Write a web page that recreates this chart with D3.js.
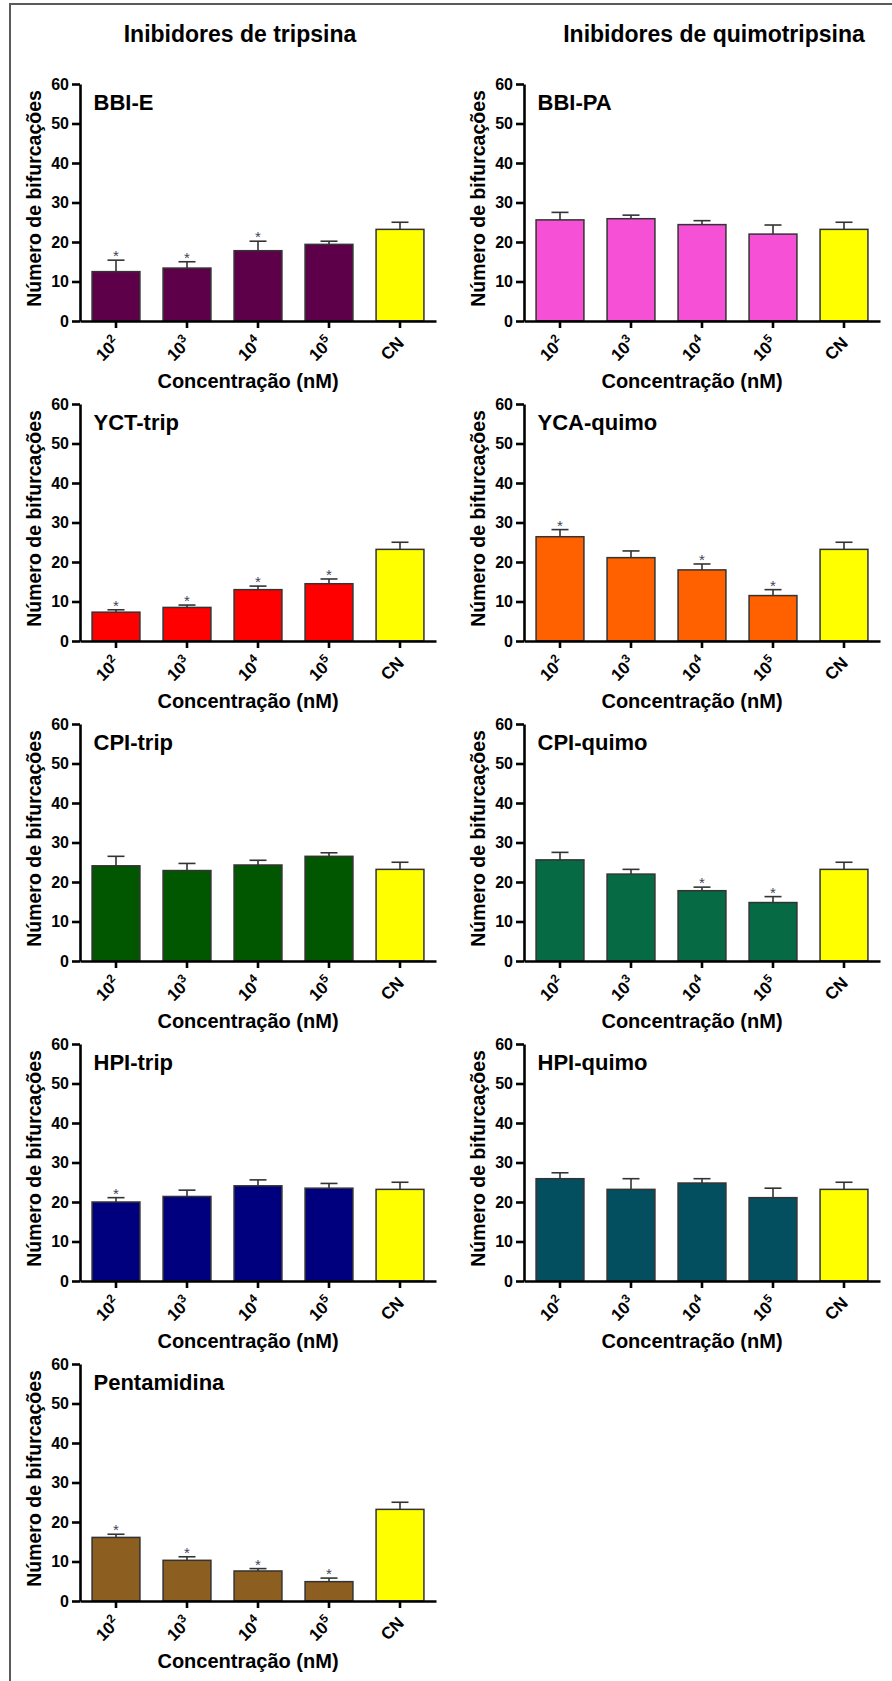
<!DOCTYPE html>
<html>
<head>
<meta charset="utf-8">
<script src="https://cdn.jsdelivr.net/npm/d3@7"></script>
<style>
  body { margin: 0; background: #fff; }
  svg { display: block; }
  text { font-family: "Liberation Sans", Arial, Helvetica, sans-serif; font-weight: bold; fill: #000; }
</style>
</head>
<body>
<svg id="chart" width="892" height="1681"></svg>
<script>
// Concentration categories (x axis): 10^n nM plus the negative control
const tickBase = ["10", "10", "10", "10", "CN"];
const tickExp  = ["2", "3", "4", "5", ""];
const yTicks   = [0, 10, 20, 30, 40, 50, 60];

const columnTitles = ["Inibidores de tripsina", "Inibidores de quimotripsina"];
const xTitle = "Concentração (nM)";
const yTitle = "Número de bifurcações";

// Mean number of bifurcations and SEM per inhibitor
const meanBBIE = [12.5, 13.4, 17.8, 19.4, 23.2];
const semBBIE  = [2.9, 1.6, 2.4, 0.8, 1.8];
const sigBBIE  = [1, 1, 1, 0, 0];

const meanBBIPA = [25.6, 25.9, 24.4, 22.0, 23.2];
const semBBIPA  = [1.9, 0.9, 1.0, 2.3, 1.8];
const sigBBIPA  = [0, 0, 0, 0, 0];

const meanYCT = [7.3, 8.5, 13.0, 14.5, 23.2];
const semYCT  = [0.6, 0.6, 0.9, 1.2, 1.8];
const sigYCT  = [1, 1, 1, 1, 0];

const meanYCA = [26.4, 21.1, 18.0, 11.5, 23.2];
const semYCA  = [1.8, 1.7, 1.5, 1.5, 1.8];
const sigYCA  = [1, 0, 1, 1, 0];

const meanCPIt = [24.1, 22.9, 24.3, 26.5, 23.2];
const semCPIt  = [2.4, 1.8, 1.2, 0.9, 1.8];
const sigCPIt  = [0, 0, 0, 0, 0];

const meanCPIq = [25.6, 22.0, 17.8, 14.8, 23.2];
const semCPIq  = [1.9, 1.2, 0.9, 1.5, 1.8];
const sigCPIq  = [0, 0, 1, 1, 0];

const meanHPIt = [20.0, 21.4, 24.1, 23.5, 23.2];
const semHPIt  = [1.1, 1.6, 1.5, 1.2, 1.8];
const sigHPIt  = [1, 0, 0, 0, 0];

const meanHPIq = [25.9, 23.2, 24.8, 21.1, 23.2];
const semHPIq  = [1.5, 2.7, 1.1, 2.4, 1.8];
const sigHPIq  = [0, 0, 0, 0, 0];

const meanPent = [16.1, 10.3, 7.6, 4.9, 23.2];
const semPent  = [0.8, 0.9, 0.6, 0.9, 1.8];
const sigPent  = [1, 1, 1, 1, 0];

// Panel order: [name, means, sems, significance, column, row]
const panels = [
  ["BBI-E",       meanBBIE,  semBBIE,  sigBBIE,  0, 0],
  ["BBI-PA",      meanBBIPA, semBBIPA, sigBBIPA, 1, 0],
  ["YCT-trip",    meanYCT,   semYCT,   sigYCT,   0, 1],
  ["YCA-quimo",   meanYCA,   semYCA,   sigYCA,   1, 1],
  ["CPI-trip",    meanCPIt,  semCPIt,  sigCPIt,  0, 2],
  ["CPI-quimo",   meanCPIq,  semCPIq,  sigCPIq,  1, 2],
  ["HPI-trip",    meanHPIt,  semHPIt,  sigHPIt,  0, 3],
  ["HPI-quimo",   meanHPIq,  semHPIq,  sigHPIq,  1, 3],
  ["Pentamidina", meanPent,  semPent,  sigPent,  0, 4]
];

// Bar colours per treatment; control is always yellow
const treatmentColors = {
  "BBI-E": "#5e0049", "BBI-PA": "#f550d6", "YCT-trip": "#ff0000",
  "YCA-quimo": "#ff6100", "CPI-trip": "#005700", "CPI-quimo": "#066a45",
  "HPI-trip": "#00007f", "HPI-quimo": "#034e5f", "Pentamidina": "#8c5f20"
};
const controlColor = "#ffff00";

// Layout
const colAxisX = [80, 524];
const firstZero = 321, rowStep = 320;
const plotW = 356, plotH = 237;

const svg = d3.select("#chart");

// Frame lines (left and top)
svg.append("path")
  .attr("d", "M10,1681 V4 H892")
  .attr("fill", "none").attr("stroke", "#5a5a5a").attr("stroke-width", 2);

// Column titles
columnTitles.forEach((t, i) => {
  svg.append("text")
    .attr("x", [240, 714][i]).attr("y", 42)
    .attr("text-anchor", "middle")
    .style("font-size", "23px")
    .text(t);
});

const x = d3.scaleBand().domain(d3.range(5)).range([0, plotW])
  .paddingInner(0.326).paddingOuter(0.17);
const y = d3.scaleLinear().domain([0, 60]).range([plotH, 0]);

panels.forEach(([name, means, sems, sig, col, row]) => {
  const zero = firstZero + rowStep * row;
  const g = svg.append("g")
    .attr("transform", `translate(${colAxisX[col]},${zero - plotH})`);

  // Bars
  g.selectAll("rect.bar").data(means).join("rect")
    .attr("class", "bar")
    .attr("x", (d, i) => x(i))
    .attr("y", d => y(d))
    .attr("width", x.bandwidth())
    .attr("height", d => plotH - y(d))
    .attr("fill", (d, i) => i === 4 ? controlColor : treatmentColors[name])
    .attr("stroke", "#333").attr("stroke-width", 1.5);

  // Upper error bars (SEM)
  const eb = g.selectAll("g.err").data(means).join("g").attr("class", "err");
  eb.append("line")
    .attr("x1", (d, i) => x(i) + x.bandwidth() / 2)
    .attr("x2", (d, i) => x(i) + x.bandwidth() / 2)
    .attr("y1", d => y(d))
    .attr("y2", (d, i) => y(d + sems[i]))
    .attr("stroke", "#333").attr("stroke-width", 1.6);
  eb.append("line")
    .attr("x1", (d, i) => x(i) + x.bandwidth() / 2 - 8.5)
    .attr("x2", (d, i) => x(i) + x.bandwidth() / 2 + 8.5)
    .attr("y1", (d, i) => y(d + sems[i]))
    .attr("y2", (d, i) => y(d + sems[i]))
    .attr("stroke", "#333").attr("stroke-width", 1.6);

  // Significance asterisks
  g.selectAll("text.sig").data(means.map((d, i) => [d, i]).filter(([d, i]) => sig[i]))
    .join("text").attr("class", "sig")
    .attr("x", ([d, i]) => x(i) + x.bandwidth() / 2)
    .attr("y", ([d, i]) => y(d + sems[i]) + 1)
    .attr("text-anchor", "middle")
    .style("font-size", "15px").style("font-weight", "normal").style("fill", "#3d4455")
    .text("*");

  // Y axis
  const ya = g.append("g").call(
    d3.axisLeft(y).tickValues(yTicks).tickSize(8).tickSizeOuter(0).tickPadding(3)
  );
  ya.select(".domain").attr("stroke", "#000").attr("stroke-width", 2.6);
  ya.selectAll(".tick line").attr("stroke", "#000").attr("stroke-width", 2.6);
  ya.selectAll(".tick text")
    .style("font-size", "16px").style("font-family", '"Liberation Sans", Arial, sans-serif')
    .style("font-weight", "bold").attr("fill", "#000");

  // X axis
  const xa = g.append("g").attr("transform", `translate(0,${plotH})`).call(
    d3.axisBottom(x).tickSize(7).tickSizeOuter(0).tickFormat("")
  );
  xa.select(".domain").attr("stroke", "#000").attr("stroke-width", 2.6);
  xa.selectAll(".tick line").attr("stroke", "#000").attr("stroke-width", 2.6);

  // Rotated category labels with superscript exponents
  const lab = g.selectAll("text.xlab").data(d3.range(5)).join("text")
    .attr("class", "xlab")
    .attr("text-anchor", "end")
    .attr("transform", i => `translate(${x(i) + x.bandwidth() / 2 + 5},${plotH + 23}) rotate(-45)`)
    .style("font-size", "17px");
  lab.append("tspan").text(i => tickBase[i]);
  lab.filter(i => tickExp[i]).append("tspan")
    .attr("dy", -7).style("font-size", "12px")
    .text(i => tickExp[i]);

  // Axis titles
  g.append("text")
    .attr("x", 168).attr("y", plotH + 67)
    .attr("text-anchor", "middle")
    .style("font-size", "20px")
    .text(xTitle);
  g.append("text")
    .attr("transform", `translate(-39,${plotH / 2 - 4}) rotate(-90)`)
    .attr("text-anchor", "middle")
    .style("font-size", "19.5px")
    .text(yTitle);

  // Panel label
  g.append("text")
    .attr("x", 13.5).attr("y", 26)
    .style("font-size", "22px")
    .text(name);
});
</script>
</body>
</html>
